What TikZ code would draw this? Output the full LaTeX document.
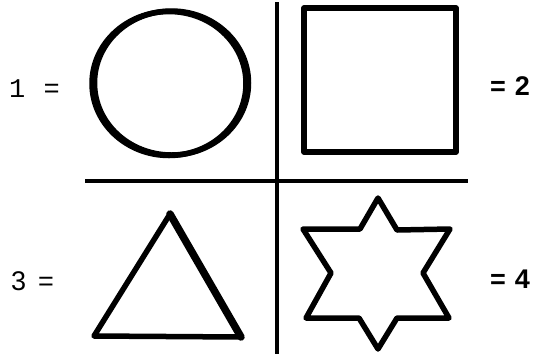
\documentclass[tikz,border=0pt]{standalone}
\usepackage{fontspec}
\setmainfont{Liberation Sans}
\newfontfamily\monof{Liberation Mono}
\begin{document}
\begin{tikzpicture}[x=1pt,y=-1pt,
  ink/.style={draw=black,line width=5.5pt,line join=round,line cap=round},
  rule/.style={draw=black,line width=4pt},
  lbl/.style={inner sep=0pt,anchor=base west,font=\fontsize{27}{30}\selectfont}]
\useasboundingbox[fill=white] (0,0) rectangle (535,360);
% dividing lines
\coordinate (vt) at (277,2);
\coordinate (vb) at (277,354);
\coordinate (hl) at (85,181);
\coordinate (hr) at (468,181);
\draw[rule] (vt) -- (vb);
\draw[rule] (hl) -- (hr);
% circle
\coordinate (cc) at (171.5,83);
\coordinate (cl) at (169,83.5);
\draw[ink] (cc) ellipse [x radius=77, y radius=72];
\draw[ink] (cl) ellipse [x radius=77, y radius=72];
% square
\draw[ink] (304,8) rectangle (456,152);
% triangle
\coordinate (ta) at (170,214);
\coordinate (tl) at (94,336);
\coordinate (tr) at (241,337);
\draw[ink] (ta) -- (tl) -- (tr) -- cycle;
\draw[black,line width=7.5pt,line cap=round] (ta) -- (tr);
% star
\draw[ink] (378,198) -- (397,230) -- (450,229) -- (423,273) -- (449,318)
  -- (397,318) -- (378,349) -- (359,318) -- (306,318) -- (331,273)
  -- (303,229) -- (360,229) -- cycle;
% labels
\node[lbl,font=\monof\fontsize{27}{30}\selectfont] (l1) at (9,97) {1\hspace{2pt} =};
\node[lbl] (l3) at (11,290) {3\hspace{12pt}=};
\node[lbl,font=\bfseries\fontsize{27}{30}\selectfont] (l2) at (490,95) {=\hspace{9pt}2};
\node[lbl,font=\bfseries\fontsize{27}{30}\selectfont] (l4) at (490,288) {=\hspace{9pt}4};
\end{tikzpicture}
\end{document}
